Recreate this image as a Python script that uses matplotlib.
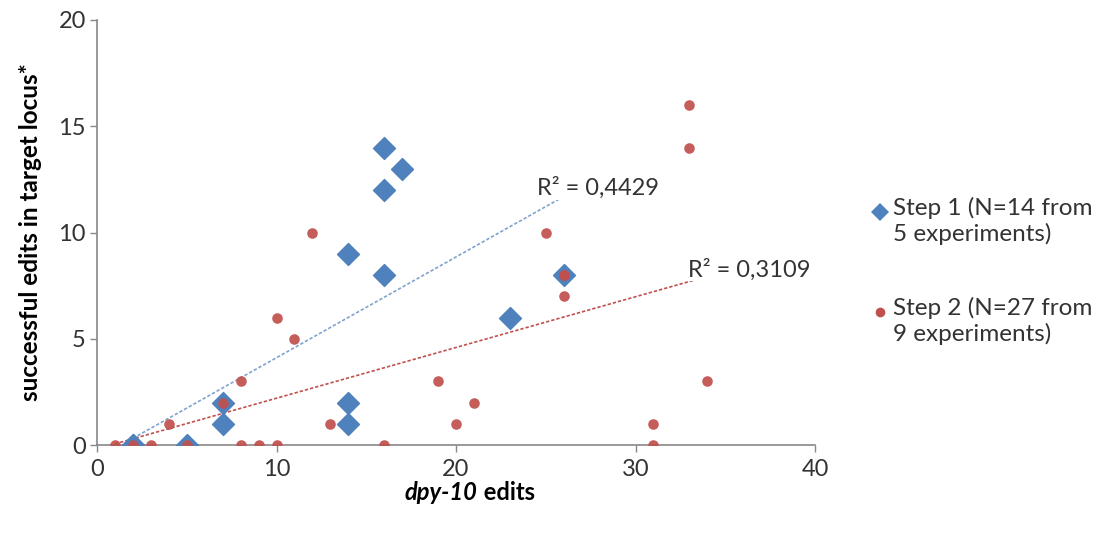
import numpy as np
import matplotlib.pyplot as plt
from matplotlib.lines import Line2D

plt.rcParams['font.family'] = ['Lato', 'DejaVu Sans']

# Step 1 data
step1_x = [2, 2, 5, 7, 7, 14, 14, 14, 16, 16, 16, 17, 23, 26]
step1_y = [0, 0, 0, 2, 1, 9, 2, 1, 14, 12, 8, 13, 6, 8]

# Step 2 data
step2_x = [1, 2, 3, 4, 5, 7, 8, 8, 9, 10, 10, 11, 12, 13, 16, 19, 20, 21,
           25, 26, 26, 26, 31, 31, 33, 33, 34]
step2_y = [0, 0, 0, 1, 0, 2, 3, 0, 0, 0, 6, 5, 10, 1, 0, 3, 1, 2,
           10, 8, 8, 7, 1, 0, 16, 14, 3]

r2_labels = ["R\u00b2 = 0,4429", "R\u00b2 = 0,3109"]
legend_labels = ["Step 1 (N=14 from\n5 experiments)", "Step 2 (N=27 from\n9 experiments)"]

blue = '#4F81BD'
red = '#C0504D'
txt = '#333333'
W, H = 1104, 535

fig = plt.figure(figsize=(11.04, 5.35), dpi=100)
ax = fig.add_axes([97 / W, 90 / H, 718 / W, 425 / H])

ax.scatter(step1_x, step1_y, marker='D', s=125, color=blue, zorder=3)
ax.scatter(step2_x, step2_y, marker='o', s=58, color=red, zorder=4, alpha=0.92,
           linewidths=0)

# linear trendlines over the x range of each series
for xs, ys, col in [(step1_x, step1_y, '#7FA3CF'), (step2_x, step2_y, red)]:
    xs = np.array(xs, dtype=float)
    ys = np.array(ys, dtype=float)
    m, b = np.polyfit(xs, ys, 1)
    xl = np.array([xs.min(), xs.max()])
    ax.plot(xl, m * xl + b, color=col, linestyle=(0, (2, 1.2)), linewidth=1.2, zorder=2)

box = dict(facecolor='white', edgecolor='none', pad=0.5)
ax.text(24.5, 12.1, r2_labels[0], fontsize=17, color=txt, va='center', zorder=5, bbox=box)
ax.text(32.9, 8.25, r2_labels[1], fontsize=17, color=txt, va='center', zorder=5, bbox=box)

ax.set_xlim(0, 40)
ax.set_ylim(0, 20)
ax.set_xticks([0, 10, 20, 30, 40])
ax.set_yticks([0, 5, 10, 15, 20])
ax.tick_params(labelsize=17, colors=txt, direction='out', length=5, width=1)
ax.tick_params(axis='x', pad=5)
ax.tick_params(axis='y', pad=3)
ax.tick_params(color='#888888')
for sp in ['top', 'right']:
    ax.spines[sp].set_visible(False)
for sp in ['left', 'bottom']:
    ax.spines[sp].set_color('#888888')
    ax.spines[sp].set_linewidth(1.2)

ax.set_ylabel('successful edits in target locus*', fontsize=17.5, fontweight='bold',
              color='black', labelpad=12)

# x label: italic part + regular part
t1 = fig.text(405 / W, 1 - 493 / H, 'dpy-10', fontsize=17, fontweight='bold',
              fontstyle='italic', va='center', ha='left')
fig.canvas.draw()
ax.annotate(' edits', xy=(1, 0), xycoords=t1, va='bottom', ha='left',
            fontsize=17, fontweight='bold')

# legend drawn by hand, Excel style
markers = [('D', blue, 9), ('o', red, 7)]
for i, (lab, (mk, col, ms)) in enumerate(zip(legend_labels, markers)):
    y0 = 212 + i * 100
    fig.add_artist(Line2D([880 / W], [1 - y0 / H], marker=mk, color=col,
                          markersize=ms, linestyle='none', markeredgewidth=0))
    fig.text(893 / W, 1 - (y0 - 15) / H, lab, fontsize=17.5, color=txt, va='top',
             ha='left', linespacing=1.2)

fig.savefig('out.png', dpi=100)
